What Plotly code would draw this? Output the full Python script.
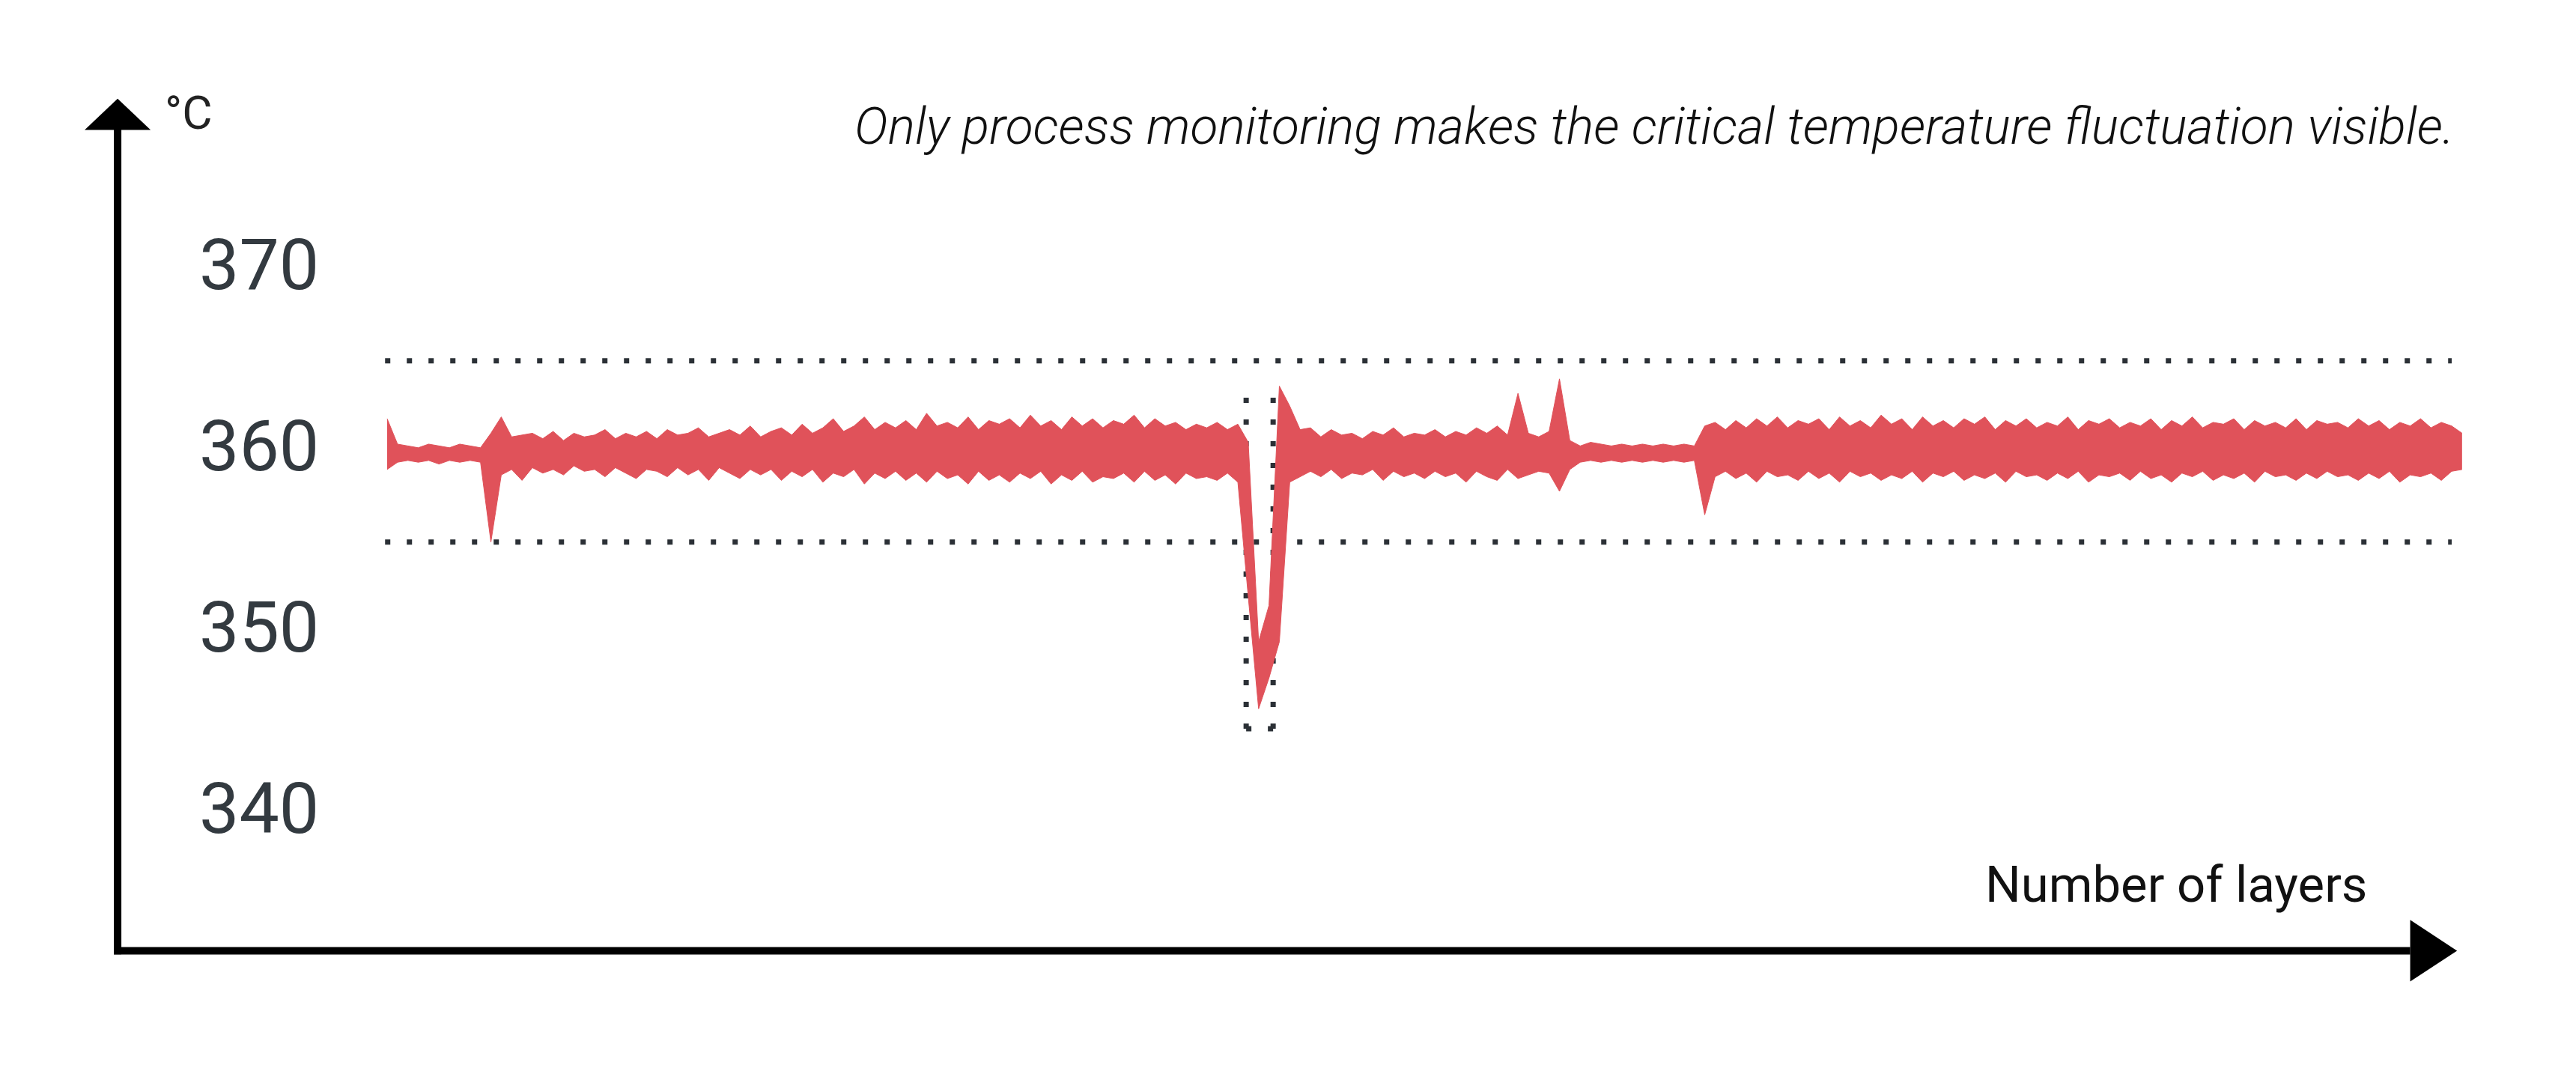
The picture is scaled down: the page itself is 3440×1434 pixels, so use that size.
import plotly.graph_objects as go

layers = [i * 5 for i in range(201)]

temp_upper = [
361.8,360.4,360.3,360.2,360.4,360.3,360.2,360.4,360.3,360.2,
361.0,361.9,360.8,360.9,361.0,360.7,361.1,360.6,361.0,360.8,
360.9,361.2,360.7,361.0,360.8,361.1,360.7,361.2,360.9,361.0,
361.3,360.8,361.0,361.2,360.9,361.4,360.8,361.1,361.3,360.9,
361.5,361.0,361.3,361.8,361.1,361.4,361.9,361.2,361.6,361.3,
361.7,361.2,362.1,361.4,361.6,361.3,361.9,361.2,361.7,361.5,
361.8,361.3,362.0,361.4,361.7,361.2,361.9,361.4,361.8,361.3,
361.7,361.5,362.0,361.3,361.8,361.4,361.6,361.2,361.5,361.3,
361.6,361.2,361.5,360.5,349.5,351.5,363.6,362.5,361.2,361.3,
360.8,361.2,360.9,361.0,360.7,361.1,360.9,361.3,360.8,361.0,
360.9,361.2,360.8,361.1,360.9,361.3,361.0,361.4,360.9,363.2,
361.0,360.8,361.1,364.0,360.6,360.3,360.5,360.4,360.3,360.4,
360.3,360.4,360.3,360.4,360.3,360.4,360.3,361.4,361.6,361.2,
361.7,361.3,361.8,361.4,361.9,361.3,361.7,361.5,361.8,361.2,
361.9,361.4,361.7,361.3,362.0,361.5,361.8,361.2,361.9,361.4,
361.7,361.3,361.8,361.5,361.9,361.2,361.7,361.4,361.8,361.3,
361.6,361.4,361.9,361.2,361.7,361.5,361.8,361.3,361.6,361.4,
361.8,361.2,361.7,361.4,361.9,361.3,361.6,361.5,361.8,361.2,
361.7,361.4,361.6,361.3,361.8,361.2,361.7,361.5,361.6,361.3,
361.8,361.4,361.7,361.2,361.6,361.4,361.8,361.3,361.6,361.4,
361.0]

temp_lower = [
359.0,359.4,359.5,359.4,359.5,359.3,359.5,359.4,359.5,359.4,
355.0,358.7,359.0,358.4,359.1,358.8,359.0,358.7,359.2,358.9,
359.0,358.6,359.1,358.8,358.5,359.0,358.9,358.6,359.1,358.7,
359.0,358.4,359.1,358.8,358.5,359.0,358.7,359.0,358.4,358.9,
358.6,359.0,358.3,358.8,358.6,359.0,358.2,358.8,358.5,358.9,
358.4,358.8,358.3,358.9,358.5,358.7,358.2,358.9,358.4,358.7,
358.3,358.8,358.5,358.9,358.2,358.7,358.4,358.9,358.3,358.6,
358.5,358.8,358.3,358.9,358.4,358.7,358.2,358.8,358.5,358.6,
358.4,358.8,358.3,352.0,345.8,347.5,349.5,358.3,358.6,358.9,
358.6,359.0,358.5,358.8,358.7,359.0,358.4,358.9,358.6,358.8,
358.5,358.9,358.6,358.8,358.3,358.9,358.6,358.4,359.0,358.5,
358.7,358.9,358.8,357.8,359.0,359.4,359.5,359.4,359.5,359.4,
359.5,359.4,359.5,359.4,359.5,359.4,359.5,356.5,358.6,358.9,
358.5,358.8,358.3,358.9,358.6,358.7,358.4,358.9,358.5,358.8,
358.3,358.9,358.6,358.8,358.4,358.7,358.5,358.9,358.3,358.8,
358.6,358.9,358.4,358.7,358.5,358.8,358.3,358.9,358.6,358.7,
358.4,358.8,358.5,358.9,358.3,358.7,358.6,358.8,358.4,358.9,
358.5,358.7,358.3,358.8,358.6,358.9,358.4,358.7,358.5,358.8,
358.3,358.9,358.6,358.7,358.4,358.8,358.5,358.9,358.6,358.7,
358.4,358.8,358.5,358.9,358.3,358.7,358.6,358.8,358.4,358.9,
359.0]

tick_values = [370, 360, 350, 340]
limit_upper = 365
limit_lower = 355
dip_box = [414, 427, 344.7, 363.4]

RED = "#e0525a"
DOT = "#2b3036"

fig = go.Figure()
fig.add_trace(go.Scatter(x=layers, y=temp_lower, mode="lines",
                         line=dict(color=RED, width=1), hoverinfo="skip"))
fig.add_trace(go.Scatter(x=layers, y=temp_upper, mode="lines", fill="tonexty",
                         fillcolor=RED, line=dict(color=RED, width=1), hoverinfo="skip"))

shapes = []
dot = dict(color=DOT, width=7, dash="7px,22px")
for lv in (limit_upper, limit_lower):
    shapes.append(dict(type="line", x0=-1, x1=995, y0=lv, y1=lv, line=dot, layer="below"))
x0, x1, y0, y1 = dip_box
for xx in (x0, x1):
    shapes.append(dict(type="line", x0=xx, x1=xx, y0=y0, y1=y1, line=dot, layer="below"))
shapes.append(dict(type="line", x0=x0, x1=x1, y0=y0, y1=y0, line=dot, layer="below"))

ax_x = -129.9
ax_y = 332.45
shapes.append(dict(type="line", x0=ax_x, x1=ax_x, y0=ax_y - 0.2, y1=378, line=dict(color="black", width=10)))
shapes.append(dict(type="line", x0=ax_x - 1.8, x1=975, y0=ax_y, y1=ax_y, line=dict(color="black", width=10)))
shapes.append(dict(type="path", path=f"M {ax_x-15.9},377.73 L {ax_x+15.9},377.73 L {ax_x},379.46 Z",
                   fillcolor="black", line=dict(width=0)))
shapes.append(dict(type="path", path=f"M 975,{ax_y+1.7} L 975,{ax_y-1.7} L 997.6,{ax_y} Z",
                   fillcolor="black", line=dict(width=0)))

annotations = []
for tv in tick_values:
    annotations.append(dict(x=-32, y=tv + 0.3, xref="x", yref="y", text=str(tv), showarrow=False,
                            xanchor="right", yanchor="middle",
                            font=dict(family="Roboto", size=95, color="#333a40")))
annotations.append(dict(x=-108, y=378.7, xref="x", yref="y", text="°C", showarrow=False,
                        xanchor="left", yanchor="middle", font=dict(family="Roboto", size=62, color="#222")))
annotations.append(dict(x=997, y=377.9, xref="x", yref="y",
                        text="<i>Only process monitoring makes the critical temperature fluctuation visible.</i>",
                        showarrow=False, xanchor="right", yanchor="middle",
                        font=dict(family="Roboto", size=68, color="#111", weight=300)))
annotations.append(dict(x=955, y=336.1, xref="x", yref="y", text="Number of layers", showarrow=False,
                        xanchor="right", yanchor="middle", font=dict(family="Roboto", size=67, color="#111")))

fig.update_layout(
    width=3440, height=1434, margin=dict(l=0, r=0, t=0, b=0),
    paper_bgcolor="white", plot_bgcolor="white", showlegend=False,
    xaxis=dict(range=[-183.7, 1057.8], visible=False, fixedrange=True),
    yaxis=dict(range=[325.32, 384.57], visible=False, fixedrange=True),
    shapes=shapes, annotations=annotations,
)
fig.write_html("out.html")
